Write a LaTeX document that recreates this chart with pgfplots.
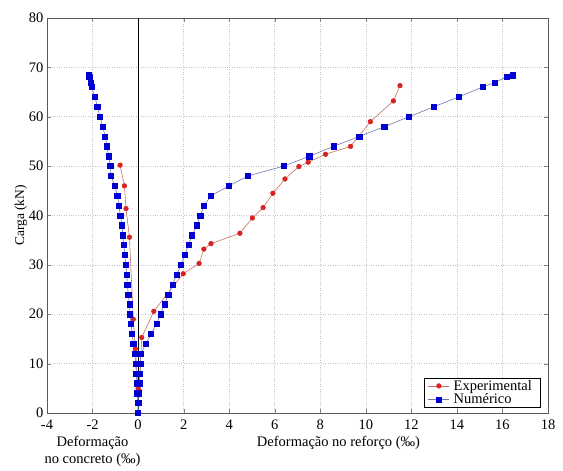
\documentclass[border=0pt]{standalone}
\usepackage{fontspec}
\setmainfont{Liberation Serif}
\usepackage{pgfplots}
\pgfplotsset{compat=1.18}
\definecolor{expred}{RGB}{215,35,35}
\definecolor{expline}{RGB}{200,110,100}
\definecolor{numblue}{RGB}{0,0,210}
\definecolor{numline}{RGB}{110,120,170}
\begin{document}
\begin{tikzpicture}
\begin{axis}[
  scale only axis,
  width=501pt, height=395pt,
  xmin=-4, xmax=18, ymin=0, ymax=80,
  xtick={-4,-2,...,18}, ytick={0,10,...,80},
  tick align=inside, major tick length=4pt,
  tick pos=both,
  grid=major,
  major grid style={gray!45, dotted, line width=0.6pt},
  axis line style={gray!70!black, line width=0.6pt},
  font=\fontsize{14}{17}\selectfont,
  /pgf/number format/assume math mode=true,
  ticklabel style={font=\fontsize{14.5}{17}\selectfont},
  xticklabel style={yshift=-3pt},
  ylabel={Carga (kN)},
  ylabel style={font=\fontsize{13.5}{16}\selectfont, yshift=-5pt},
  legend style={at={(1,0)}, anchor=south east, xshift=-8pt, yshift=6pt,
    draw=black, fill=white, font=\fontsize{14.5}{16}\selectfont,
    row sep=2pt, inner xsep=4pt, inner ysep=1.5pt,
    nodes={inner xsep=4pt, inner ysep=0pt}},
  legend cell align=left,
  legend image code/.code={
    \draw[#1] (0pt,0pt) -- (21pt,0pt);
    \draw[#1, only marks] plot coordinates {(10.5pt,0pt)};
  },
  clip=false,
]
\addplot[black, line width=0.7pt, forget plot] coordinates {(0,0) (0,80)};

% Experimental
\addplot[expline, line width=0.6pt, mark=*, mark size=2.3pt,
  mark options={draw=expred, fill=expred}] coordinates {
(0.05,4.5)(0.16,15.3)(0.69,20.6)(1.98,28.2)(2.68,30.3)(2.89,33.2)(3.20,34.3)
(4.47,36.4)(5.02,39.5)(5.49,41.6)(5.92,44.5)(6.45,47.4)(7.06,49.9)(7.47,50.8)
(8.23,52.4)(9.33,54.0)(10.20,59.0)(11.21,63.2)(11.50,66.3)};
\addlegendentry{Experimental}

% Numerico
\addplot[numline, line width=0.6pt, mark=square*, mark size=2.6pt,
  mark options={draw=numblue, fill=numblue}] coordinates {
(0,0)(0.02,2)(0.04,4)(0.06,6)(0.08,8)(0.10,10)(0.12,12)(0.35,14)(0.57,16)
(0.81,18)(0.98,20)(1.16,22)(1.33,24)(1.51,26)(1.70,28)(1.88,30)(2.05,32)
(2.21,34)(2.37,36)(2.58,38)(2.73,40)(2.90,42)(3.20,44)(3.99,46)(4.82,48)
(6.39,50)(7.52,52)(8.59,54)(9.71,56)(10.81,58)(11.90,60)(12.98,62)(14.07,64)
(15.12,66)(15.65,66.9)(16.19,68.1)(16.44,68.4)};
\addlegendentry{Numérico}

\addplot[expline, line width=0.6pt, mark=*, mark size=2.3pt,
  mark options={draw=expred, fill=expred}, forget plot] coordinates {
(0.0,5.0)(-0.12,13.0)(-0.21,19.0)(-0.38,35.6)(-0.53,41.4)(-0.60,46.0)(-0.79,50.2)};

\addplot[numline, line width=0.6pt, mark=square*, mark size=2.6pt,
  mark options={draw=numblue, fill=numblue}, forget plot] coordinates {
(0,0)(-0.02,2)(-0.04,4)(-0.05,6)(-0.08,8)(-0.10,10)(-0.15,12)(-0.21,14)
(-0.26,16)(-0.31,18)(-0.35,20)(-0.38,22)(-0.43,24)(-0.47,26)(-0.50,28)
(-0.54,30)(-0.58,32)(-0.63,34)(-0.67,36)(-0.70,38)(-0.78,40)(-0.84,42)
(-0.91,44)(-1.02,46)(-1.19,48)(-1.22,50)(-1.29,52)(-1.36,54)(-1.45,56)
(-1.55,58)(-1.67,60)(-1.79,62)(-1.89,64)(-2.04,66)(-2.08,66.9)(-2.14,68.1)
(-2.18,68.4)};

\node[anchor=north, align=center, font=\fontsize{14.5}{17}\selectfont]
  at ([yshift=-20pt]axis cs:-2,0) {Deformação\\no concreto (‰)};
\node[anchor=north, font=\fontsize{14.5}{17}\selectfont]
  at ([yshift=-20pt]axis cs:8.8,0) {Deformação no reforço (‰)};
\path ([xshift=-47pt,yshift=-48pt]rel axis cs:0,0) rectangle ([xshift=15pt,yshift=18pt]rel axis cs:1,1);
\end{axis}
\end{tikzpicture}
\end{document}
